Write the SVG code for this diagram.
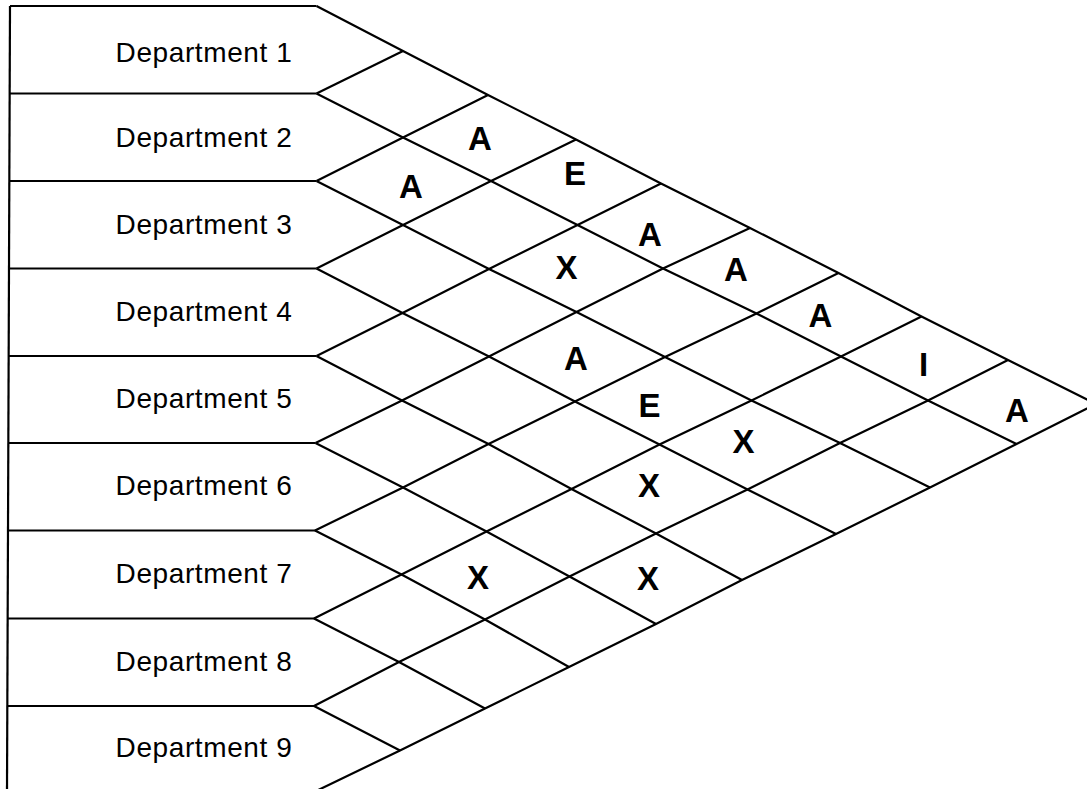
<svg xmlns="http://www.w3.org/2000/svg" width="1087" height="789" viewBox="0 0 1087 789">
<style>
.ln{fill:none;stroke:#000;stroke-width:2.2;stroke-linejoin:miter;stroke-linecap:butt}
.dept{font-family:"Liberation Sans",Arial,sans-serif;font-size:28px;letter-spacing:0.6px;fill:#000;text-anchor:middle}
.rel{font-family:"Liberation Sans",Arial,sans-serif;font-size:33px;font-weight:bold;fill:#000;text-anchor:middle}
</style>
<rect width="1087" height="789" fill="#fff"/>
<g id="connectors">
<line class="ln" x1="10" y1="6" x2="7" y2="789"/>
<line class="ln" x1="10" y1="6" x2="316.5" y2="6"/>
<line class="ln" x1="10" y1="93.5" x2="316.5" y2="93.5"/>
<line class="ln" x1="9.5" y1="181" x2="316.5" y2="181"/>
<line class="ln" x1="9" y1="268.5" x2="316.5" y2="268.5"/>
<line class="ln" x1="9" y1="356" x2="316.5" y2="356"/>
<line class="ln" x1="8.5" y1="443" x2="315.5" y2="443"/>
<line class="ln" x1="8" y1="530.5" x2="315" y2="530.5"/>
<line class="ln" x1="8" y1="618.5" x2="314" y2="618.5"/>
<line class="ln" x1="7.5" y1="706" x2="314" y2="706"/>
<polyline class="ln" points="316.5,6 403,51 488,95 576,139.5 661,183.5 750,228 838.5,273 921.5,316.5 1008,360 1096,404"/>
<polyline class="ln" points="316.5,93.5 403,137.5 491,181 577.5,225 663,268.5 756.5,313.5 841,356.5 928,400.5 1016.5,444"/>
<polyline class="ln" points="316.5,181 403,225 489,269 576.5,312 665,357 751.5,400.5 840,443 930,487.5"/>
<polyline class="ln" points="316.5,268.5 402.5,313 489,356.5 575,401.5 659.5,444.5 747.5,489.5 836,534"/>
<polyline class="ln" points="316.5,356 402,400.5 488.5,444 571.5,489 656,533.5 742,580"/>
<polyline class="ln" points="315.5,443 403,487.5 486.5,531.5 569.5,576.5 656,624"/>
<polyline class="ln" points="315,530.5 401.5,574.5 485,619.5 569,667"/>
<polyline class="ln" points="314,618.5 399,662 485,708.5"/>
<polyline class="ln" points="314,706 400,750.5"/>
<polyline class="ln" points="316.5,93.5 403,51"/>
<polyline class="ln" points="316.5,181 403,137.5 488,95"/>
<polyline class="ln" points="316.5,268.5 403,225 491,181 576,139.5"/>
<polyline class="ln" points="316.5,356 402.5,313 489,269 577.5,225 661,183.5"/>
<polyline class="ln" points="315.5,443 402,400.5 489,356.5 576.5,312 663,268.5 750,228"/>
<polyline class="ln" points="315,530.5 403,487.5 488.5,444 575,401.5 665,357 756.5,313.5 838.5,273"/>
<polyline class="ln" points="314,618.5 401.5,574.5 486.5,531.5 571.5,489 659.5,444.5 751.5,400.5 841,356.5 921.5,316.5"/>
<polyline class="ln" points="314,706 399,662 485,619.5 569.5,576.5 656,533.5 747.5,489.5 840,443 928,400.5 1008,360"/>
<polyline class="ln" points="311,793.5 400,750.5 485,708.5 569,667 656,624 742,580 836,534 930,487.5 1016.5,444 1096,404"/>
</g>
<g id="dept-1"><text class="dept" x="204" y="61.5">Department 1</text></g>
<g id="dept-2"><text class="dept" x="204" y="147">Department 2</text></g>
<g id="dept-3"><text class="dept" x="204" y="234">Department 3</text></g>
<g id="dept-4"><text class="dept" x="204" y="321">Department 4</text></g>
<g id="dept-5"><text class="dept" x="204" y="408">Department 5</text></g>
<g id="dept-6"><text class="dept" x="204" y="495">Department 6</text></g>
<g id="dept-7"><text class="dept" x="204" y="583">Department 7</text></g>
<g id="dept-8"><text class="dept" x="204" y="670.5">Department 8</text></g>
<g id="dept-9"><text class="dept" x="204" y="757">Department 9</text></g>
<g id="rel-1-3"><text class="rel" x="480" y="150">A</text></g>
<g id="rel-2-3"><text class="rel" x="411" y="198">A</text></g>
<g id="rel-1-4"><text class="rel" x="575" y="185">E</text></g>
<g id="rel-1-5"><text class="rel" x="650" y="245.5">A</text></g>
<g id="rel-2-5"><text class="rel" x="566.5" y="279">X</text></g>
<g id="rel-1-6"><text class="rel" x="736" y="280.5">A</text></g>
<g id="rel-1-7"><text class="rel" x="820.5" y="326.5">A</text></g>
<g id="rel-3-6"><text class="rel" x="576" y="370">A</text></g>
<g id="rel-1-8"><text class="rel" x="923.5" y="376">I</text></g>
<g id="rel-1-9"><text class="rel" x="1017" y="421.5">A</text></g>
<g id="rel-3-7"><text class="rel" x="649.5" y="416.5">E</text></g>
<g id="rel-3-8"><text class="rel" x="743.5" y="452.5">X</text></g>
<g id="rel-4-8"><text class="rel" x="649" y="496.5">X</text></g>
<g id="rel-6-8"><text class="rel" x="478" y="589">X</text></g>
<g id="rel-5-9"><text class="rel" x="648" y="590">X</text></g>
</svg>
